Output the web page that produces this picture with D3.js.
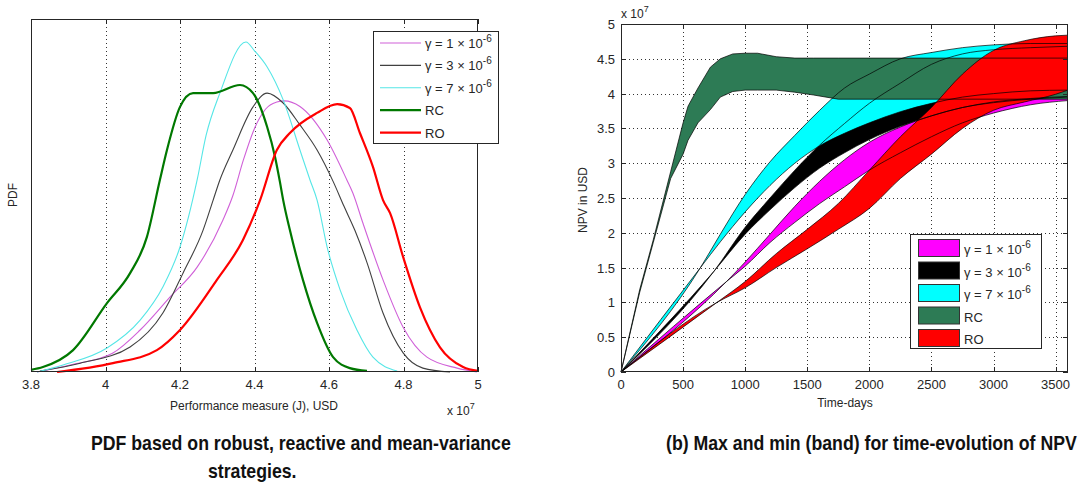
<!DOCTYPE html>
<html>
<head>
<meta charset="utf-8">
<script src="https://cdn.jsdelivr.net/npm/d3@7"></script>
<style>
  body { margin: 0; background: #fff; }
  svg { display: block; font-family: "Liberation Sans", Arial, sans-serif; }
</style>
</head>
<body>
<svg id="chart" width="1084" height="486"></svg>
<script>
// ---------- left panel: PDF of performance measure (x 1e7 USD) ----------
const perfTicks = [3.8, 4, 4.2, 4.4, 4.6, 4.8, 5];

const g1Perf = [3.816, 3.905, 4.020, 4.093, 4.173, 4.246, 4.315, 4.342, 4.370, 4.400, 4.430, 4.460, 4.480, 4.522, 4.595, 4.648, 4.664, 4.691, 4.745, 4.799, 4.863, 4.944, 4.997];
const g1Pdf  = [0.0, 0.020, 0.054, 0.119, 0.212, 0.297, 0.430, 0.500, 0.600, 0.690, 0.745, 0.765, 0.768, 0.752, 0.657, 0.544, 0.507, 0.422, 0.261, 0.127, 0.042, 0.011, 0.0];

const g3Perf = [3.824, 3.932, 4.066, 4.154, 4.208, 4.262, 4.289, 4.307, 4.342, 4.396, 4.434, 4.477, 4.522, 4.568, 4.611, 4.640, 4.670, 4.702, 4.745, 4.799, 4.852, 4.925];
const g3Pdf  = [0.003, 0.025, 0.071, 0.167, 0.280, 0.402, 0.487, 0.544, 0.629, 0.751, 0.790, 0.762, 0.700, 0.629, 0.540, 0.470, 0.400, 0.310, 0.167, 0.054, 0.011, 0.0];

const g7Perf = [3.816, 3.886, 4.004, 4.093, 4.154, 4.200, 4.246, 4.270, 4.307, 4.377, 4.400, 4.434, 4.477, 4.522, 4.549, 4.568, 4.595, 4.630, 4.675, 4.718, 4.783];
const g7Pdf  = [0.0, 0.020, 0.068, 0.147, 0.241, 0.354, 0.544, 0.670, 0.790, 0.935, 0.910, 0.864, 0.771, 0.629, 0.544, 0.487, 0.354, 0.232, 0.119, 0.042, 0.003];

const rcPerf = [3.800, 3.832, 3.913, 4.004, 4.066, 4.111, 4.146, 4.165, 4.200, 4.235, 4.289, 4.361, 4.396, 4.434, 4.455, 4.468, 4.477, 4.495, 4.530, 4.568, 4.611, 4.656, 4.702];
const rcPdf  = [0.006, 0.014, 0.062, 0.195, 0.280, 0.382, 0.544, 0.629, 0.751, 0.790, 0.790, 0.813, 0.790, 0.694, 0.610, 0.540, 0.487, 0.402, 0.261, 0.139, 0.042, 0.011, 0.003];

const roPerf = [3.870, 4.020, 4.138, 4.200, 4.299, 4.369, 4.415, 4.460, 4.495, 4.568, 4.622, 4.656, 4.683, 4.718, 4.745, 4.764, 4.799, 4.844, 4.898, 4.960, 5.000];
const roPdf  = [0.0, 0.025, 0.062, 0.119, 0.261, 0.374, 0.487, 0.629, 0.677, 0.734, 0.759, 0.748, 0.677, 0.581, 0.487, 0.450, 0.326, 0.184, 0.070, 0.014, 0.003];

// ---------- right panel: min / max NPV bands (x 1e7 USD) over time ----------
const dayTicks = [0, 500, 1000, 1500, 2000, 2500, 3000, 3500];
const npvTicks = [0, 0.5, 1, 1.5, 2, 2.5, 3, 3.5, 4, 4.5, 5];

const g1Days = [0, 850, 1000, 1200, 1400, 1600, 1800, 2000, 2250, 2500, 2750, 3000, 3300, 3600];
const g1High = [0, 1.30, 1.58, 1.98, 2.38, 2.74, 3.05, 3.30, 3.52, 3.68, 3.80, 3.87, 3.92, 3.95];
const g1Low  = [0, 1.30, 1.52, 1.86, 2.15, 2.42, 2.66, 2.90, 3.15, 3.38, 3.58, 3.72, 3.84, 3.90];

const g3Days = [0, 750, 1000, 1200, 1400, 1600, 1800, 2000, 2250, 2500, 2750, 3000, 3300, 3600];
const g3High = [0, 1.45, 2.08, 2.50, 2.90, 3.26, 3.57, 3.86, 4.15, 4.42, 4.57, 4.63, 4.66, 4.68];
const g3Low  = [0, 1.45, 1.98, 2.33, 2.65, 2.93, 3.15, 3.34, 3.53, 3.68, 3.80, 3.88, 3.93, 3.96];

const g7Days = [0, 640, 800, 1000, 1200, 1400, 1600, 1800, 2000, 2250, 2500, 2750, 3000, 3300, 3600];
const g7High = [0, 1.50, 1.98, 2.55, 3.02, 3.40, 3.76, 4.08, 4.28, 4.50, 4.59, 4.66, 4.70, 4.72, 4.72];
const g7Low  = [0, 1.50, 1.87, 2.30, 2.68, 3.00, 3.25, 3.43, 3.58, 3.74, 3.86, 3.95, 4.00, 4.04, 4.05];

const rcDays = [0, 150, 260, 400, 500, 540, 620, 720, 800, 900, 1000, 1100, 1250, 1400, 1550, 1750, 3600];
const rcHigh = [0, 1.18, 1.90, 2.88, 3.58, 3.82, 4.08, 4.38, 4.50, 4.57, 4.58, 4.58, 4.53, 4.51, 4.51, 4.51, 4.51];
const rcLow  = [0, 1.14, 1.86, 2.78, 3.13, 3.33, 3.58, 3.77, 3.95, 4.03, 4.05, 4.05, 4.05, 4.02, 3.98, 3.92, 3.92];

const roDays = [0, 773, 1000, 1250, 1500, 1750, 2000, 2250, 2500, 2750, 3000, 3250, 3500, 3600];
const roHigh = [0, 1.00, 1.30, 1.70, 2.05, 2.42, 2.90, 3.38, 3.80, 4.28, 4.62, 4.76, 4.83, 4.84];
const roLow  = [0, 1.00, 1.21, 1.50, 1.77, 2.05, 2.35, 2.78, 3.13, 3.50, 3.76, 3.88, 3.99, 4.05];

// ---------- series definitions ----------
const pdfSeries = [
  { label: ['γ = 1 × 10', '-6'], color: '#d060d8', width: 1.1, x: g1Perf, y: g1Pdf },
  { label: ['γ = 3 × 10', '-6'], color: '#404040', width: 1.1, x: g3Perf, y: g3Pdf },
  { label: ['γ = 7 × 10', '-6'], color: '#55e6e6', width: 1.1, x: g7Perf, y: g7Pdf },
  { label: ['RC', ''], color: '#007800', width: 2.2, x: rcPerf, y: rcPdf },
  { label: ['RO', ''], color: '#ff0000', width: 2.2, x: roPerf, y: roPdf }
];

const bandSeries = [
  { label: ['γ = 1 × 10', '-6'], color: '#ff00ff', t: g1Days, lo: g1Low, hi: g1High, curve: d3.curveMonotoneX },
  { label: ['γ = 3 × 10', '-6'], color: '#000000', t: g3Days, lo: g3Low, hi: g3High, curve: d3.curveMonotoneX },
  { label: ['γ = 7 × 10', '-6'], color: '#00ffff', t: g7Days, lo: g7Low, hi: g7High, curve: d3.curveMonotoneX },
  { label: ['RC', ''], color: '#2d7b55', t: rcDays, lo: rcLow, hi: rcHigh, curve: d3.curveLinear },
  { label: ['RO', ''], color: '#ff0000', t: roDays, lo: roLow, hi: roHigh, curve: d3.curveMonotoneX }
];

const svg = d3.select('#chart');
const ink = '#262626';

// Write a label with an optional superscript part
function supText (sel, parts, size) {
  sel.append('tspan').text(parts[0]);
  if (parts[1]) {
    sel.append('tspan')
      .attr('dy', -6)
      .attr('font-size', size - 3)
      .text(parts[1]);
  }
}

// ================= left panel =================
const xL = d3.scaleLinear().domain([3.8, 5]).range([31, 478]);
const yL = d3.scaleLinear().domain([0, 1]).range([372, 19]);
const left = svg.append('g');

// Dotted vertical grid
left.selectAll('line.grid')
  .data(perfTicks.slice(1, -1))
  .join('line')
  .attr('class', 'grid')
  .attr('x1', d => Math.round(xL(d)) + 0.5)
  .attr('x2', d => Math.round(xL(d)) + 0.5)
  .attr('y1', yL(1))
  .attr('y2', yL(0))
  .attr('stroke', '#333')
  .attr('stroke-dasharray', '1,3');

// Curves
const pdfLine = d3.line().curve(d3.curveMonotoneX);
left.selectAll('path.pdf')
  .data(pdfSeries)
  .join('path')
  .attr('class', 'pdf')
  .attr('d', s => pdfLine(s.x.map((v, i) => [xL(v), yL(s.y[i])])))
  .attr('fill', 'none')
  .attr('stroke', s => s.color)
  .attr('stroke-width', s => s.width)
  .attr('stroke-linejoin', 'round');

// Frame and ticks
left.append('rect')
  .attr('x', 31.5).attr('y', 19.5)
  .attr('width', 446).attr('height', 352)
  .attr('fill', 'none').attr('stroke', ink);

left.selectAll('path.tick')
  .data(perfTicks)
  .join('path')
  .attr('class', 'tick')
  .attr('d', d => {
    const x = Math.round(xL(d)) + 0.5;
    return `M${x},372V367M${x},19V24`;
  })
  .attr('stroke', ink);

left.selectAll('text.xt')
  .data(perfTicks)
  .join('text')
  .attr('class', 'xt')
  .attr('x', d => xL(d))
  .attr('y', 389)
  .attr('text-anchor', 'middle')
  .attr('font-size', 13)
  .attr('fill', ink)
  .text(d => d);

left.append('text')
  .attr('x', 254).attr('y', 410)
  .attr('text-anchor', 'middle')
  .attr('font-size', 12)
  .attr('fill', ink)
  .text('Performance measure (J), USD');

left.append('text')
  .attr('x', 447).attr('y', 415)
  .attr('font-size', 12)
  .attr('fill', ink)
  .call(supText, ['x 10', '7'], 12);

left.append('text')
  .attr('transform', 'translate(17,195) rotate(-90)')
  .attr('text-anchor', 'middle')
  .attr('font-size', 12)
  .attr('fill', ink)
  .text('PDF');

// Legend
const legL = left.append('g').attr('transform', 'translate(373,31)');
legL.append('rect')
  .attr('x', 0.5).attr('y', 0.5)
  .attr('width', 125).attr('height', 112)
  .attr('fill', '#fff').attr('stroke', ink);
const legLRows = legL.selectAll('g.row')
  .data(pdfSeries)
  .join('g')
  .attr('class', 'row')
  .attr('transform', (s, i) => `translate(0,${12 + i * 22.4})`);
legLRows.append('line')
  .attr('x1', 7).attr('x2', 48)
  .attr('stroke', s => s.color)
  .attr('stroke-width', s => s.width);
legLRows.append('text')
  .attr('x', 52).attr('y', 5)
  .attr('font-size', 13)
  .attr('fill', ink)
  .each(function (s) { supText(d3.select(this), s.label, 13); });

// ================= right panel =================
const xR = d3.scaleLinear().domain([0, 3600]).range([621, 1068]);
const yR = d3.scaleLinear().domain([0, 5]).range([372, 24]);
const right = svg.append('g');

right.selectAll('line.vgrid')
  .data(dayTicks.slice(1))
  .join('line')
  .attr('class', 'vgrid')
  .attr('x1', d => Math.round(xR(d)) + 0.5)
  .attr('x2', d => Math.round(xR(d)) + 0.5)
  .attr('y1', yR(5)).attr('y2', yR(0))
  .attr('stroke', '#333')
  .attr('stroke-dasharray', '1,3');

right.selectAll('line.hgrid')
  .data(npvTicks.slice(1, -1))
  .join('line')
  .attr('class', 'hgrid')
  .attr('y1', d => Math.round(yR(d)) + 0.5)
  .attr('y2', d => Math.round(yR(d)) + 0.5)
  .attr('x1', xR(0)).attr('x2', xR(3600))
  .attr('stroke', '#333')
  .attr('stroke-dasharray', '1,3');

// Bands: fills first, then all min/max edges on top
const bandArea = s => d3.area()
  .curve(s.curve)
  .x((d, i) => xR(s.t[i]))
  .y0((d, i) => yR(s.lo[i]))
  .y1((d, i) => yR(s.hi[i]))(s.t);

right.selectAll('path.band')
  .data(bandSeries)
  .join('path')
  .attr('class', 'band')
  .attr('d', bandArea)
  .attr('fill', s => s.color);

const edges = bandSeries.flatMap(s => [
  { s, v: s.lo },
  { s, v: s.hi }
]);
right.selectAll('path.edge')
  .data(edges)
  .join('path')
  .attr('class', 'edge')
  .attr('d', e => d3.line().curve(e.s.curve)(e.s.t.map((t, i) => [xR(t), yR(e.v[i])])))
  .attr('fill', 'none')
  .attr('stroke', '#000')
  .attr('stroke-width', 0.7);

right.append('rect')
  .attr('x', 621.5).attr('y', 24.5)
  .attr('width', 446).attr('height', 347)
  .attr('fill', 'none').attr('stroke', ink);

right.selectAll('path.xtick')
  .data(dayTicks)
  .join('path')
  .attr('class', 'xtick')
  .attr('d', d => {
    const x = Math.round(xR(d)) + 0.5;
    return `M${x},372V367M${x},24V29`;
  })
  .attr('stroke', ink);

right.selectAll('path.ytick')
  .data(npvTicks)
  .join('path')
  .attr('class', 'ytick')
  .attr('d', d => {
    const y = Math.round(yR(d)) + 0.5;
    return `M621,${y}H626M1068,${y}H1063`;
  })
  .attr('stroke', ink);

right.selectAll('text.xt')
  .data(dayTicks)
  .join('text')
  .attr('class', 'xt')
  .attr('x', d => xR(d))
  .attr('y', 389)
  .attr('text-anchor', 'middle')
  .attr('font-size', 13)
  .attr('fill', ink)
  .text(d => d);

right.selectAll('text.yt')
  .data(npvTicks)
  .join('text')
  .attr('class', 'yt')
  .attr('x', 615)
  .attr('y', d => yR(d) + 5)
  .attr('text-anchor', 'end')
  .attr('font-size', 13)
  .attr('fill', ink)
  .text(d => d);

right.append('text')
  .attr('x', 845).attr('y', 407)
  .attr('text-anchor', 'middle')
  .attr('font-size', 12)
  .attr('fill', ink)
  .text('Time-days');

right.append('text')
  .attr('transform', 'translate(587,200) rotate(-90)')
  .attr('text-anchor', 'middle')
  .attr('font-size', 12)
  .attr('fill', ink)
  .text('NPV in USD');

right.append('text')
  .attr('x', 621).attr('y', 18)
  .attr('font-size', 12)
  .attr('fill', ink)
  .call(supText, ['x 10', '7'], 12);

// Legend
const legR = right.append('g').attr('transform', 'translate(910,234)');
legR.append('rect')
  .attr('x', 0.5).attr('y', 0.5)
  .attr('width', 131).attr('height', 114)
  .attr('fill', '#fff').attr('stroke', ink);
const legRRows = legR.selectAll('g.row')
  .data(bandSeries)
  .join('g')
  .attr('class', 'row')
  .attr('transform', (s, i) => `translate(0,${14 + i * 22.5})`);
legRRows.append('rect')
  .attr('x', 8.5).attr('y', -8.5)
  .attr('width', 41).attr('height', 17)
  .attr('fill', s => s.color)
  .attr('stroke', '#333');
legRRows.append('text')
  .attr('x', 54).attr('y', 6)
  .attr('font-size', 13)
  .attr('fill', ink)
  .each(function (s) { supText(d3.select(this), s.label, 13); });

// ================= captions (condensed bold, squeezed horizontally) =================
const captions = svg.append('g')
  .attr('font-weight', 'bold')
  .attr('font-size', 20)
  .attr('fill', '#111');

captions.append('text')
  .attr('transform', 'translate(91,450) scale(0.885,1)')
  .text('PDF based on robust, reactive and mean-variance');

captions.append('text')
  .attr('transform', 'translate(208,478) scale(0.885,1)')
  .text('strategies.');

captions.append('text')
  .attr('transform', 'translate(666,450) scale(0.885,1)')
  .text('(b) Max and min (band) for time-evolution of NPV');
</script>
</body>
</html>
